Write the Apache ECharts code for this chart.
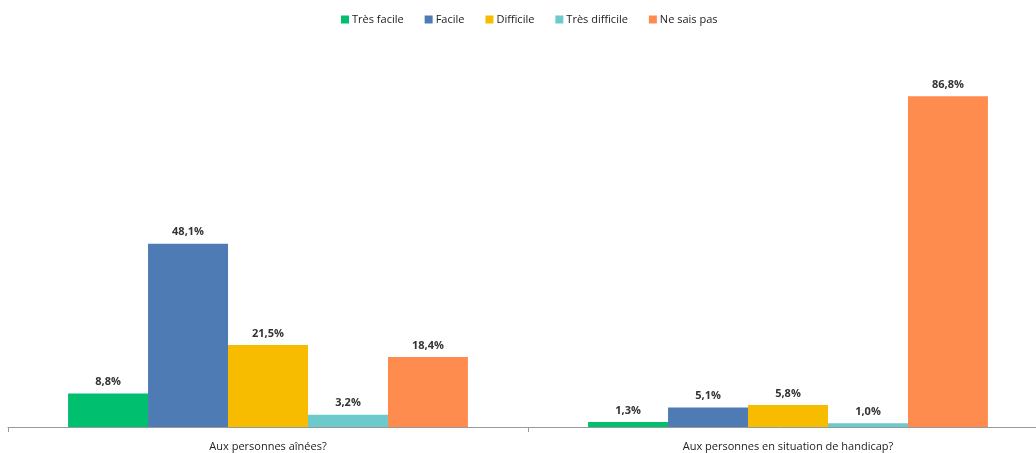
<!DOCTYPE html>
<html><head><meta charset="utf-8">
<script src="https://cdn.jsdelivr.net/npm/echarts@6/dist/echarts.min.js"></script>
<style>html,body{margin:0;padding:0;background:#fff}#c{width:1036px;height:453px}</style>
</head><body><div id="c"></div>
<script>
var categories = ['Aux personnes aînées?', 'Aux personnes en situation de handicap?'];
var seriesNames = ['Très facile', 'Facile', 'Difficile', 'Très difficile', 'Ne sais pas'];
var tresFacile = [8.8, 1.3];
var facile = [48.1, 5.1];
var difficile = [21.5, 5.8];
var tresDifficile = [3.2, 1.0];
var neSaisPas = [18.4, 86.8];
var colors = ['#00BF6F', '#4F7BB5', '#F7BC00', '#6CC9CC', '#FF8C4F'];
var values = [tresFacile, facile, difficile, tresDifficile, neSaisPas];

var chart = echarts.init(document.getElementById('c'));
chart.setOption({
  animation: false,
  textStyle: { fontFamily: 'Open Sans, Noto Sans, sans-serif' },
  legend: {
    top: 9, left: 336, itemWidth: 8, itemHeight: 8, itemGap: 21,
    icon: 'rect',
    textStyle: { fontSize: 11, color: '#222', padding: [0,0,0,-2] },
    data: seriesNames
  },
  grid: { left: 8, top: 46, width: 1040, height: 381, containLabel: false, outerBoundsMode: 'none' },
  xAxis: {
    type: 'category', data: categories,
    axisLine: { lineStyle: { color: '#999' } },
    axisTick: { show: true, length: 5, lineStyle: { color: '#999' } },
    axisLabel: { fontSize: 11, color: '#222', margin: 14 }
  },
  yAxis: { type: 'value', min: 0, max: 100, show: false, splitLine: { show: false } },
  series: seriesNames.map(function (n, i) {
    return {
      name: n, type: 'bar', data: values[i], barGap: '0%', barCategoryGap: '23.1%',
      itemStyle: { color: colors[i] },
      label: {
        show: true, position: 'top', distance: 6, fontSize: 11, fontWeight: 'bold', color: '#333',
        formatter: function (p) { return p.value.toFixed(1).replace('.', ',') + '%'; }
      }
    };
  })
});
</script></body></html>
